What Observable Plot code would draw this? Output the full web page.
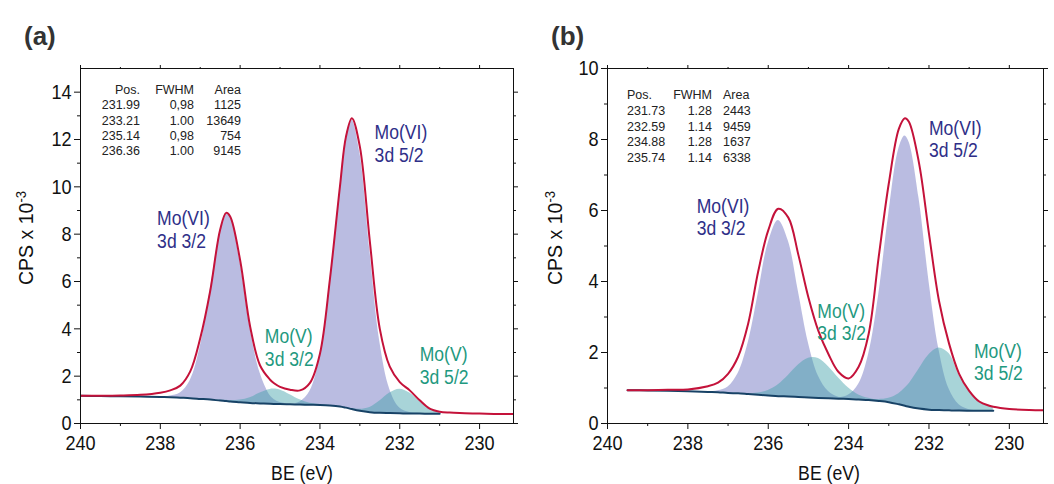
<!DOCTYPE html>
<html><head><meta charset="utf-8">
<script src="https://cdn.jsdelivr.net/npm/d3@7"></script>
<script src="https://cdn.jsdelivr.net/npm/@observablehq/plot@0.6"></script>
<style>
body{margin:0;background:#fff;}
#wrap{display:flex;width:1054px;height:484px;overflow:hidden;}
svg{display:block;}
</style></head><body><div id="wrap"></div>
<script>
// ---------- Panel (a) data ----------
const beA = [240, 239.5, 239, 238.5, 238, 237.75, 237.5, 237.25, 237, 236.75, 236.5, 236.35, 236.25, 236, 235.75, 235.5, 235.25, 235.15, 235, 234.75, 234.5, 234.25, 234, 233.75, 233.5, 233.35, 233.2, 233, 232.75, 232.5, 232.25, 232, 231.75, 231.5, 231.25, 231, 230.75, 230.5, 230, 229.5, 229];
const envA = [1.17,1.17,1.18,1.21,1.3,1.4,1.6,2.2,3.6,5.6,8.2,8.9,8.75,6.9,4.1,2.45,1.85,1.7,1.55,1.43,1.4,1.72,2.95,6.1,10.0,12.1,12.9,11.7,7.7,4.0,2.4,1.75,1.4,0.98,0.63,0.5,0.46,0.44,0.42,0.4,0.4];
const bgA = [1.17,1.16,1.15,1.14,1.12,1.11,1.09,1.07,1.04,1.01,0.97,0.95,0.93,0.9,0.87,0.85,0.83,0.825,0.82,0.81,0.8,0.79,0.78,0.76,0.72,0.67,0.61,0.54,0.48,0.45,0.44,0.43,0.42,0.42,0.41,0.41,0.4,0.4,0.4,0.39,0.39];
const vi32A = [0,0,0,0,0,0.05,0.2,0.75,2.2,4.62,7.15,7.87,7.82,5.9,3.15,1.28,0.35,0.19,0.07,0.01,0,0,0,0,0,0,0,0,0,0,0,0,0,0,0,0,0,0,0,0,0];
const v32A = [0,0,0,0,0,0,0,0,0,0.01,0.02,0.03,0.04,0.09,0.22,0.44,0.61,0.63,0.6,0.41,0.2,0.07,0.02,0,0,0,0,0,0,0,0,0,0,0,0,0,0,0,0,0,0];
const vi52A = [0,0,0,0,0,0,0,0,0,0,0,0,0,0,0,0,0,0,0,0,0.11,0.57,2.07,5.28,9.2,11.4,12.2,10.9,6.85,3.0,1.0,0.22,0.04,0,0,0,0,0,0,0,0];
const v52A = [0,0,0,0,0,0,0,0,0,0,0,0,0,0,0,0,0,0,0,0,0,0,0,0,0,0,0.02,0.06,0.2,0.5,0.85,1.02,0.87,0.52,0.22,0.07,0.01,0,0,0,0];
const tablePosA = ["231.99","233.21","235.14","236.36"];
const tableFwhmA = ["0,98","1.00","0,98","1.00"];
const tableAreaA = ["1125","13649","754","9145"];

// ---------- Panel (b) data ----------
const beB = [239.5, 239, 238.5, 238, 237.5, 237.25, 237, 236.75, 236.5, 236.25, 236, 235.75, 235.5, 235.25, 235, 234.75, 234.5, 234.25, 234, 233.75, 233.5, 233.25, 233, 232.75, 232.6, 232.5, 232.25, 232, 231.75, 231.5, 231.25, 231, 230.75, 230.5, 230.4, 230, 229.5, 229];
const envB = [0.94,0.94,0.95,0.96,1.05,1.15,1.4,1.88,2.81,4.28,5.44,6.05,5.8,4.75,3.55,2.6,1.95,1.45,1.27,1.6,2.53,4.7,6.76,8.3,8.6,8.5,7.35,5.35,3.45,2.25,1.4,0.92,0.62,0.5,0.47,0.41,0.38,0.37];
const bgB = [0.94,0.93,0.92,0.91,0.89,0.88,0.86,0.85,0.83,0.81,0.79,0.77,0.76,0.745,0.73,0.72,0.71,0.7,0.69,0.675,0.66,0.635,0.6,0.54,0.5,0.47,0.42,0.39,0.38,0.37,0.365,0.36,0.36,0.36,0.36,0.36,0.36,0.36];
const vi32B = [0,0,0,0,0,0.04,0.17,0.56,1.44,2.84,4.29,4.95,4.38,2.97,1.54,0.61,0.19,0.04,0.01,0,0,0,0,0,0,0,0,0,0,0,0,0,0,0,0,0,0,0];
const v32B = [0,0,0,0,0,0,0,0,0.01,0.05,0.14,0.32,0.59,0.9,1.11,1.11,0.89,0.58,0.31,0.13,0.05,0.01,0,0,0,0,0,0,0,0,0,0,0,0,0,0,0,0];
const vi52B = [0,0,0,0,0,0,0,0,0,0,0,0,0,0,0,0,0,0.02,0.11,0.43,1.3,3.0,5.31,7.2,7.6,7.47,5.94,3.62,1.69,0.6,0.16,0.03,0,0,0,0,0,0];
const v52B = [0,0,0,0,0,0,0,0,0,0,0,0,0,0,0,0,0,0,0,0,0.01,0.04,0.11,0.3,0.49,0.64,1.11,1.55,1.75,1.6,1.0,0.55,0.25,0.12,0.09,0,0,0];
const tablePosB = ["231.73","232.59","234.88","235.74"];
const tableFwhmB = ["1.28","1.14","1.28","1.14"];
const tableAreaB = ["2443","9459","1637","6338"];

// ---------- shared labels / ticks ----------
const tableHeader = ["Pos.","FWHM","Area"];
const xMajor = [240, 238, 236, 234, 232, 230];
const xMinor = [239, 237, 235, 233, 231];
const yMajorA = [0, 2, 4, 6, 8, 10, 12, 14];
const yMinorA = [1, 3, 5, 7, 9, 11, 13];
const yMajorB = [0, 2, 4, 6, 8, 10];
const yMinorB = [1, 3, 5, 7, 9];
const annLine1 = ["Mo(VI)", "Mo(VI)", "Mo(V)", "Mo(V)"];
const annLine2 = ["3d 3/2", "3d 5/2", "3d 3/2", "3d 5/2"];
const annKind = ["VI", "VI", "V", "V"];
const annXA = [238.08, 232.63, 235.38, 231.5];
const annYA = [8.18, 11.78, 3.17, 2.41];
const annXB = [237.78, 232.0, 234.78, 230.88];
const annYB = [5.79, 7.98, 2.84, 1.70];

const SANS = "'Liberation Sans', Arial, sans-serif";
const NAVY = "#2f2f88", TEALTXT = "#1f9980", RED = "#c4123a", LAV = "#9d9fd4", TEAL = "#3fa0a8", BGC = "#174266";

function squeeze(el, f) {
  const L = el.getComputedTextLength();
  if (L > 0) { el.setAttribute("textLength", (L * f).toFixed(2)); el.setAttribute("lengthAdjust", "spacingAndGlyphs"); }
}

function panel(cfg) {
  const rows = cfg.be.map((x, i) => ({x, env: cfg.env[i], bg: cfg.bg[i], vi32: cfg.vi32[i], vi52: cfg.vi52[i], v32: cfg.v32[i], v52: cfg.v52[i]}));
  const fit = rows.filter(d => d.x >= cfg.fitEnd - 1e-9);
  const comp = k => ({x: "x", y1: "bg", y2: d => d.bg + d[k], curve: "catmull-rom", clip: true});
  const ann = annLine1.map((l1, i) => ({l1, l2: annLine2[i], kind: annKind[i], x: cfg.annX[i], y: cfg.annY[i]}));
  const annMarks = [];
  for (const [kind, color] of [["VI", NAVY], ["V", TEALTXT]]) {
    const sub = ann.filter(d => d.kind === kind);
    annMarks.push(Plot.text(sub, {x: "x", y: "y", text: "l1", dy: -cfg.annGap, fill: color, textAnchor: "start", fontSize: 19.5, className: "ann"}));
    annMarks.push(Plot.text(sub, {x: "x", y: "y", text: "l2", dy: cfg.annGap, fill: color, textAnchor: "start", fontSize: 19.5, className: "ann"}));
  }
  const svg = Plot.plot({
    width: 527, height: 484,
    marginLeft: 80, marginRight: cfg.mr, marginTop: 68, marginBottom: 61,
    x: {domain: [240, 229.15]},
    y: {domain: [0, cfg.ymax]},
    style: {fontFamily: SANS, background: "transparent", color: "#111", overflow: "visible"},
    marks: [
      Plot.areaY(fit, {...comp("vi32"), fill: LAV, fillOpacity: 0.7}),
      Plot.areaY(fit, {...comp("vi52"), fill: LAV, fillOpacity: 0.7}),
      Plot.areaY(fit, {...comp("v32"), fill: TEAL, fillOpacity: 0.45}),
      Plot.areaY(fit, {...comp("v52"), fill: TEAL, fillOpacity: 0.45}),
      Plot.line(fit, {x: "x", y: "bg", stroke: BGC, strokeWidth: 2, curve: "catmull-rom", clip: true}),
      Plot.line(rows, {x: "x", y: "env", stroke: RED, strokeWidth: 2, curve: "catmull-rom", clip: true}),
      Plot.frame({stroke: "#111"}),
      Plot.axisX({ticks: xMajor, tickSize: 6, tickPadding: 6, fontSize: 21, label: null}),
      Plot.axisX({ticks: xMinor, tickSize: 3, tickFormat: () => "", label: null}),
      Plot.axisX({anchor: "top", ticks: xMajor, tickSize: 4, tickFormat: () => "", label: null}),
      Plot.axisX({anchor: "top", ticks: xMinor, tickSize: 2, tickFormat: () => "", label: null}),
      Plot.axisY({ticks: cfg.yMajor, tickSize: 6, tickPadding: 3, fontSize: 21, label: null}),
      Plot.axisY({ticks: cfg.yMinor, tickSize: 3, tickFormat: () => "", label: null}),
      Plot.axisY({anchor: "right", ticks: cfg.yMajor, tickSize: 4, tickFormat: () => "", label: null}),
      Plot.axisY({anchor: "right", ticks: cfg.yMinor, tickSize: 2, tickFormat: () => "", label: null}),
      ...annMarks
    ]
  });
  const s = d3.select(svg);
  // panel letter
  s.append("text").attr("class", "nosq").attr("x", 24).attr("y", 45).attr("text-anchor", "start")
    .attr("font-family", SANS).attr("font-size", 26).attr("font-weight", "bold").attr("fill", "#333").text(cfg.letter);
  // y label with superscript
  const yl = s.append("text").attr("class", "ylab").attr("transform", `translate(${cfg.ylx},238) rotate(-90)`)
    .attr("text-anchor", "middle").attr("font-family", SANS).attr("font-size", 21).attr("fill", "#111");
  yl.append("tspan").text("CPS x 10");
  yl.append("tspan").attr("dy", "-0.5em").attr("font-size", 14).text("-3");
  // x label
  s.append("text").attr("class", "xlab").attr("x", cfg.xlx).attr("y", 480).attr("text-anchor", "middle")
    .attr("font-family", SANS).attr("font-size", 21).attr("fill", "#111").text("BE (eV)");
  // fit table
  const colData = [cfg.tPos, cfg.tFwhm, cfg.tArea];
  tableHeader.forEach((h, c) => {
    [h, ...colData[c]].forEach((t, r) => {
      s.append("text").attr("class", "nosq").attr("x", cfg.tabX[c]).attr("y", cfg.tabY + r * cfg.tabStep)
        .attr("text-anchor", cfg.tabAnchor[c]).attr("dominant-baseline", "central")
        .attr("font-family", SANS).attr("font-size", 12.5).attr("fill", "#222").text(t);
    });
  });
  return svg;
}

function finish(svg) {
  const s = d3.select(svg);
  s.selectAll("text").each(function () {
    const cl = this.getAttribute("class") || "";
    if (cl.includes("nosq")) return;
    if (cl.includes("ylab")) return squeeze(this, 0.93);
    if (cl.includes("xlab")) return squeeze(this, 0.84);
    if (this.closest(".ann")) return squeeze(this, 0.9);
    squeeze(this, 0.86);
  });
}

const wrap = document.getElementById("wrap");
const pa = panel({
  be: beA, env: envA, bg: bgA, vi32: vi32A, vi52: vi52A, v32: v32A, v52: v52A,
  fitEnd: 231.0, ymax: 15, yMajor: yMajorA, yMinor: yMinorA, mr: 14, annGap: 11.5,
  annX: annXA, annY: annYA, letter: "(a)", ylx: 33, xlx: 302,
  tPos: tablePosA, tFwhm: tableFwhmA, tArea: tableAreaA,
  tabX: [140, 194, 241], tabAnchor: ["end", "end", "end"], tabY: 90, tabStep: 15.3
});
const pb = panel({
  be: beB, env: envB, bg: bgB, vi32: vi32B, vi52: vi52B, v32: v32B, v52: v52B,
  fitEnd: 230.4, ymax: 10, yMajor: yMajorB, yMinor: yMinorB, mr: 11, annGap: 11,
  annX: annXB, annY: annYB, letter: "(b)", ylx: 35, xlx: 302,
  tPos: tablePosB, tFwhm: tableFwhmB, tArea: tableAreaB,
  tabX: [100, 185, 196], tabAnchor: ["start", "end", "start"], tabY: 95, tabStep: 15.8
});
wrap.appendChild(pa);
wrap.appendChild(pb);
finish(pa);
finish(pb);
</script></body></html>
